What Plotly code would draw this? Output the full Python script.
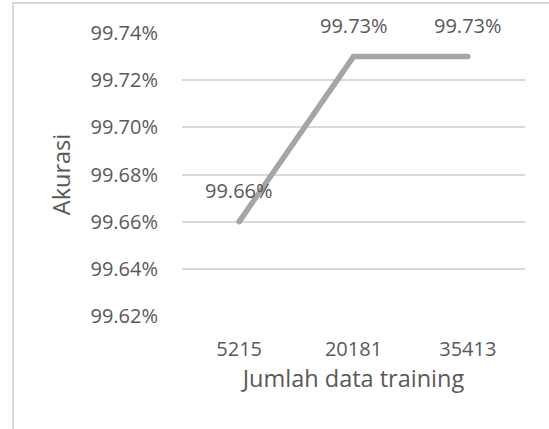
import plotly.graph_objects as go

categories = ["5215", "20181", "35413"]
accuracy = [99.66, 99.73, 99.73]
y_ticks = [99.62, 99.64, 99.66, 99.68, 99.70, 99.72, 99.74]
y_tick_labels = [f"{v:.2f}%" for v in y_ticks]
point_labels = [f"{v:.2f}%" for v in accuracy]

FONT = "Open Sans"
TXT = "#595959"
LINE = "#A5A5A5"

fig = go.Figure()
fig.add_trace(go.Scatter(
    x=list(range(len(categories))), y=accuracy, mode="lines+markers",
    line=dict(color=LINE, width=5.5), marker=dict(color=LINE, size=5.5, line=dict(width=0)),
    hoverinfo="skip", showlegend=False, cliponaxis=False,
))

for i, (v, t) in enumerate(zip(accuracy, point_labels)):
    fig.add_annotation(x=i, y=v, text=t, showarrow=False, yshift=31.5,
                       font=dict(family=FONT, size=20, color=TXT))

# chart border
fig.add_shape(type="rect", xref="paper", yref="paper", x0=-0.4927, x1=1.3, y0=-0.6, y1=1.106,
              line=dict(color="#D9D9D9", width=2), layer="below")

fig.update_layout(
    width=549, height=429,
    margin=dict(l=182, r=24, t=33, b=113),
    paper_bgcolor="white", plot_bgcolor="white",
    font=dict(family=FONT, size=20, color=TXT),
    hovermode=False,
    xaxis=dict(
        range=[-0.5, 2.5], tickmode="array", tickvals=list(range(len(categories))),
        ticktext=categories, showgrid=False, zeroline=False, showline=False,
        ticklabelstandoff=19, automargin=False, fixedrange=True,
        title=dict(text="Jumlah data training", standoff=8, font=dict(size=23.5)),
    ),
    yaxis=dict(
        range=[99.62, 99.74], tickmode="array", tickvals=y_ticks, ticktext=y_tick_labels,
        showgrid=True, gridcolor="#D9D9D9", gridwidth=1.5, zeroline=False, showline=False,
        ticklabelstandoff=23, automargin=False, fixedrange=True,
        title=dict(text="Akurasi", standoff=13, font=dict(size=23.5)),
    ),
)

fig.write_html("out.html", config={"displayModeBar": False},
               post_script="document.body.style.margin='0';")
